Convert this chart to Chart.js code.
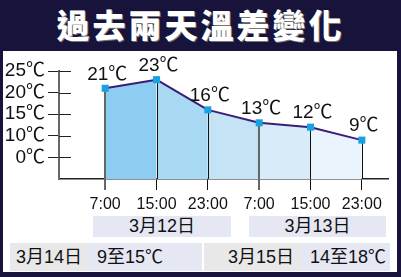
<!DOCTYPE html>
<html>
<head>
<meta charset="utf-8">
<script src="https://cdn.jsdelivr.net/npm/chart.js@4"></script>
<style>
  body { margin: 0; }
  #wrap { position: relative; width: 401px; height: 277px; background: #17133b; overflow: hidden;
          font-family: "Liberation Sans", "Noto Sans CJK TC", sans-serif; color: #111; }
  #title { position: absolute; left: 0; top: 0; width: 401px; height: 51px; line-height: 47px; text-align: center;
           color: #fff; font: 900 33px "Noto Sans CJK TC", sans-serif; letter-spacing: 3px; text-shadow: 1px 1px 0 #777; }
  #panel { position: absolute; left: 3px; top: 51px; width: 394px; height: 221px; background: #fff; }
  #chart-temp { position: absolute; left: 0; top: 0; }
  .box { position: absolute; font-size: 18px; line-height: 21px; white-space: nowrap; }
  .lav { background: #e5e7f3; }
  .gray { background: #e8e8e8; }
</style>
</head>
<body>
<div id="wrap">
  <div id="title">過去兩天溫差變化</div>
  <div id="panel">
    <canvas id="chart-temp" width="394" height="164"></canvas>
    <div class="box lav" style="left:90px;top:165px;width:138px;height:21px;text-align:center">3月12日</div>
    <div class="box lav" style="left:246px;top:165px;width:137px;height:21px;text-align:center">3月13日</div>
    <div class="box gray" style="left:7px;top:192px;width:78px;height:28px;line-height:28px;text-align:center">3月14日</div>
    <div class="box lav" style="left:85px;top:192px;width:105px;height:28px;line-height:28px;padding-left:9px">9至15℃</div>
    <div class="box gray" style="left:201px;top:192px;width:90px;height:28px;line-height:28px;text-align:right;padding-right:6px">3月15日</div>
    <div class="box lav" style="left:297px;top:192px;width:80px;height:28px;line-height:28px;padding-left:10px">14至18℃</div>
  </div>
</div>
<script>
// Chart data
const timeLabels = ['7:00', '15:00', '23:00', '7:00', '15:00', '23:00']
const temps = [21, 23, 16, 13, 12, 9]
const yTickValues = [5, 10, 15, 20, 25]
const yTickLabels = ['0℃', '10℃', '15℃', '20℃', '25℃']

// Color settings
const color_line = '#3a1d78'
const color_point = '#1aa2e0'
const segment_fills = ['#8dcdf2', '#a9d8f3', '#c4e4f6', '#d7ebf8', '#eaf4fc']
const font_main = '"Liberation Sans", "Noto Sans CJK TC", sans-serif'

// drop lines from each point to the axis, plus y tick marks inside the plot
const dropLines = {
    id: 'dropLines',
    beforeDatasetDraw(chart) {
        const ctx = chart.ctx
        const meta = chart.getDatasetMeta(0)
        const bottom = chart.chartArea.bottom
        ctx.save()
        meta.data.forEach((pt, i) => {
            const dayStart = timeLabels[i] === '7:00'
            ctx.strokeStyle = dayStart ? '#666' : '#111'
            ctx.lineWidth = dayStart ? 2 : 1
            const x = Math.round(pt.x) + (dayStart ? 0 : 0.5)
            ctx.beginPath()
            ctx.moveTo(x, pt.y)
            ctx.lineTo(x, bottom)
            ctx.stroke()
        })
        // inner half of the y tick marks
        const y = chart.scales.y
        ctx.strokeStyle = '#222'
        ctx.lineWidth = 1
        yTickValues.forEach(v => {
            const py = Math.round(y.getPixelForValue(v)) + 0.5
            ctx.beginPath()
            ctx.moveTo(chart.chartArea.left, py)
            ctx.lineTo(chart.chartArea.left + 12, py)
            ctx.stroke()
        })
        ctx.restore()
    }
}

// value labels above points
const valueLabels = {
    id: 'valueLabels',
    afterDatasetsDraw(chart) {
        const ctx = chart.ctx
        const meta = chart.getDatasetMeta(0)
        ctx.save()
        ctx.font = '19px ' + font_main
        ctx.fillStyle = '#111'
        ctx.textAlign = 'center'
        ctx.textBaseline = 'middle'
        meta.data.forEach((pt, i) => {
            ctx.fillText(temps[i] + '℃', pt.x + 2, pt.y - 14)
        })
        ctx.restore()
    }
}

const data = {
    datasets: [{
        data: temps.map((t, i) => ({x: i, y: t})),
        borderColor: color_line,
        borderWidth: 2,
        tension: 0,
        fill: 'origin',
        segment: {
            backgroundColor: c => segment_fills[c.p0DataIndex],
        },
        pointStyle: 'rect',
        pointRadius: 5,
        pointBackgroundColor: color_point,
        pointBorderWidth: 0,
    }]
}

const config = {
    type: 'line',
    data: data,
    options: {
        responsive: false,
        animation: false,
        events: [],
        layout: { padding: { top: 20, right: 9, left: 0, bottom: 0 } },
        plugins: { legend: { display: false }, tooltip: { enabled: false } },
        scales: {
            x: {
                type: 'linear',
                min: -0.9,
                max: 5.51,
                afterBuildTicks: s => { s.ticks = timeLabels.map((_, i) => ({value: i})) },
                afterFit: s => { s.height = 36 },
                ticks: {
                    callback: (v, i) => timeLabels[i],
                    color: '#111',
                    font: { size: 16, family: font_main },
                    padding: 5,
                    maxRotation: 0,
                    autoSkip: false,
                },
                grid: {
                    drawOnChartArea: false,
                    drawTicks: true,
                    tickLength: 11,
                    color: c => timeLabels[c.index] === '7:00' ? '#666' : '#111',
                    lineWidth: c => timeLabels[c.index] === '7:00' ? 2 : 1,
                },
                border: { color: '#222', width: 1.5 },
            },
            y: {
                min: 0,
                max: 25,
                afterBuildTicks: s => { s.ticks = yTickValues.map(v => ({value: v})) },
                afterFit: s => { s.width = 56 },
                ticks: {
                    callback: (v, i) => yTickLabels[i],
                    color: '#111',
                    font: { size: 19, family: font_main },
                    padding: 3,
                },
                grid: {
                    drawOnChartArea: false,
                    drawTicks: true,
                    tickLength: 11,
                    color: '#222',
                },
                border: { color: '#666', width: 2 },
            },
        },
    },
    plugins: [dropLines, valueLabels],
}

const context = document.getElementById('chart-temp').getContext('2d')
const chart = new Chart(context, config)
</script>
</body>
</html>
